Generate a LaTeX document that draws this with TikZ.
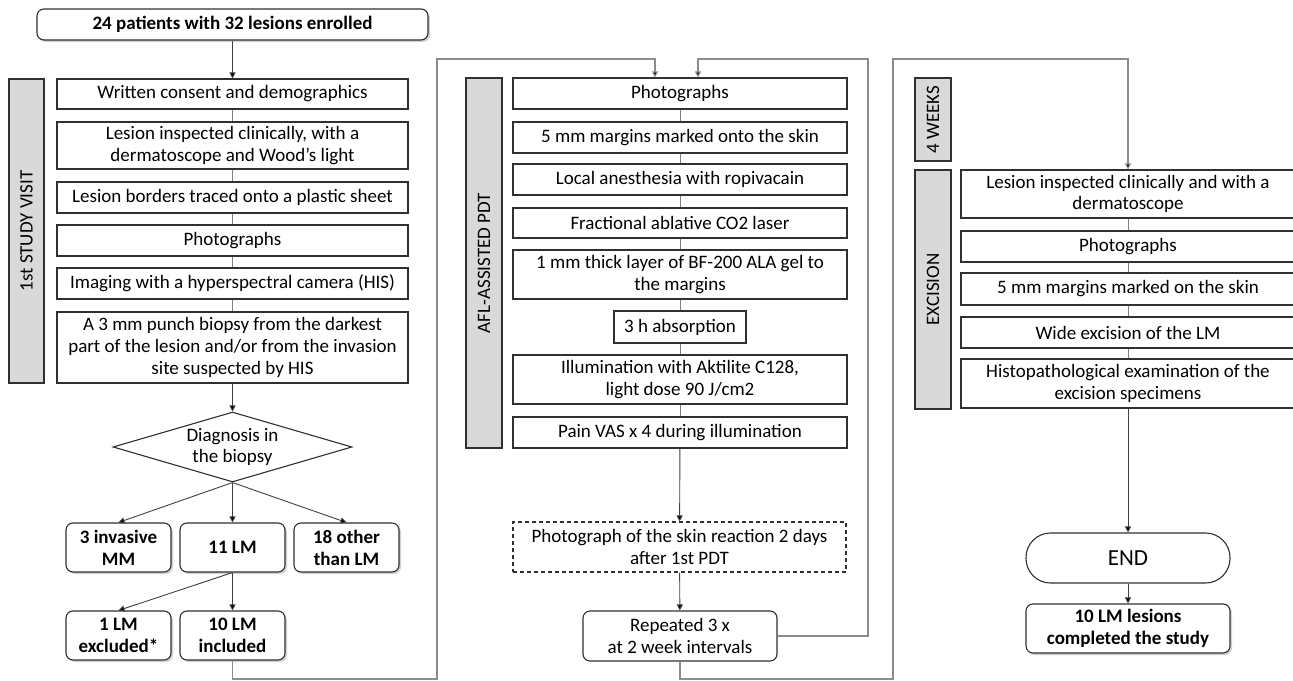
\documentclass[tikz,border=0pt]{standalone}
\usepackage{fontspec}
\setmainfont{Carlito}
\usetikzlibrary{arrows.meta,shapes.geometric,shadows,calc}
\definecolor{boxc}{HTML}{303030}
\definecolor{lblc}{HTML}{D9D9D9}
\definecolor{lnkc}{HTML}{808080}
\definecolor{rtec}{HTML}{8C8C8C}
\definecolor{arrc}{HTML}{404040}
\begin{document}
\begin{tikzpicture}[x=1pt,y=-1pt,
  font=\fontsize{19}{21.7}\selectfont,
  box/.style 2 args={draw=boxc, line width=1.1pt, fill=white, align=center, inner sep=0pt,
    minimum width=#1, minimum height=#2},
  rbox/.style 2 args={box={#1}{#2}, rounded corners=7pt, font=\fontsize{19}{22}\selectfont\bfseries,
    drop shadow={shadow xshift=2pt, shadow yshift=-2pt, opacity=0.35}},
  pbox/.style 2 args={box={#1}{#2}, rounded corners=7pt},
  dbox/.style 2 args={box={#1}{#2}, dash pattern=on 4pt off 3pt},
  lbl/.style 2 args={draw=boxc, line width=1.1pt, fill=lblc, inner sep=0pt, rotate=90,
    minimum width=#1, minimum height=#2},
  lnk/.style={draw=lnkc, line width=0.9pt},
  arr/.style={draw=arrc, line width=0.9pt, -{Triangle[length=6pt,width=6pt,fill=black]}},
  rte/.style={draw=rtec, line width=1.1pt},
  rtea/.style={rte, -{Triangle[length=6pt,width=6pt,fill=black]}}
]
\useasboundingbox (0,0) rectangle (1293,680);
\fill[white] (0,0) rectangle (1293,680);

% ---------- left column ----------
\node[rbox={391}{31}] (top) at (232.5,24.5) {24 patients with 32 lesions enrolled};
\node[lbl={304}{35}] (s1) at (26.5,231) {1st STUDY VISIT};
\node[box={351}{30}] (wc) at (232.5,94) {Written consent and demographics};
\node[box={351}{47}] (li) at (232.5,145.5) {Lesion inspected clinically, with a\\dermatoscope and Wood’s light};
\node[box={351}{31}] (lb) at (232.5,197.5) {Lesion borders traced onto a plastic sheet};
\node[box={351}{31}] (ph1) at (232.5,240.5) {Photographs};
\node[box={351}{31}] (im) at (232.5,283.5) {Imaging with a hyperspectral camera (HIS)};
\node[box={351}{71}] (pb) at (232.5,347.5) {A 3 mm punch biopsy from the darkest\\part of the lesion and/or from the invasion\\site suspected by HIS};
\node[draw=boxc, line width=1.1pt, fill=white, diamond, inner sep=0pt,
  minimum width=239, minimum height=70] (dg) at (232.5,447) {};
\node[align=center, inner sep=0pt] (dgt) at (dg.center) {Diagnosis in\\the biopsy};
\node[rbox={105}{49}] (mm) at (118.5,547.5) {3 invasive\\MM};
\node[rbox={105}{49}] (l11) at (232.5,547.5) {11 LM};
\node[rbox={105}{49}] (oth) at (346.5,547.5) {18 other\\than LM};
\node[rbox={105}{49}] (exc) at (118.5,635.5) {1 LM\\excluded*};
\node[rbox={105}{49}] (inc) at (232.5,635.5) {10 LM\\included};

% ---------- middle column ----------
\node[lbl={370}{36}] (s2) at (484,263) {AFL-ASSISTED PDT};
\node[box={334}{31}] (ph2) at (680,93.5) {Photographs};
\node[box={334}{31}] (mg) at (680,137.5) {5 mm margins marked onto the skin};
\node[box={334}{31}] (la) at (680,179.5) {Local anesthesia with ropivacain};
\node[box={334}{30}] (fr) at (680,223) {Fractional ablative CO2 laser};
\node[box={334}{49}] (gel) at (680,274.5) {1 mm thick layer of BF-200 ALA gel to\\the margins};
\node[box={132}{32}] (ab) at (680,327) {3 h absorption};
\node[box={334}{49}] (il) at (680,379.5) {Illumination with Aktilite C128,\\light dose 90 J/cm2};
\node[box={334}{31}] (pa) at (680,432.5) {Pain VAS x 4 during illumination};
\node[dbox={333}{50}] (sk) at (679.5,547) {Photograph of the skin reaction 2 days\\after 1st PDT};
\node[pbox={194}{50}] (rp) at (680,636) {Repeated 3 x\\at 2 week intervals};

% ---------- right column ----------
\node[lbl={83}{36}] (s3) at (933,119.5) {4 WEEKS};
\node[lbl={239}{36}] (s4) at (933,289.5) {EXCISION};
\node[box={334}{48}] (lr) at (1128,194) {Lesion inspected clinically and with a\\dermatoscope};
\node[box={334}{31}] (ph3) at (1128,246.5) {Photographs};
\node[box={334}{32}] (mr) at (1128,289) {5 mm margins marked on the skin};
\node[box={334}{31}] (we) at (1128,332.5) {Wide excision of the LM};
\node[box={334}{49}] (hi) at (1128,383.5) {Histopathological examination of the\\excision specimens};
\node[box={204}{50}, rounded corners=24.5pt, font=\fontsize{23}{26}\selectfont] (en) at (1128,558) {END};
\node[rbox={204}{49}] (fin) at (1128,628.5) {10 LM lesions\\completed the study};

% ---------- route corners ----------
\coordinate (b1) at (437,679);
\coordinate (t1) at (437,59);
\coordinate (t2) at (868,59);
\coordinate (b2) at (893,679);
\coordinate (t3) at (893,59);

% ---------- connectors ----------
\draw[arr] (top) -- (wc);
\draw[lnk] (wc) -- (li);
\draw[lnk] (li) -- (lb);
\draw[lnk] (lb) -- (ph1);
\draw[lnk] (ph1) -- (im);
\draw[lnk] (im) -- (pb);
\draw[arr] (pb) -- (dg);
\draw[arr] (dg.south) -- (mm.north);
\draw[arr] (dg.south) -- (l11.north);
\draw[arr] (dg.south) -- (oth.north);
\draw[arr] (l11.south) -- (exc.north);
\draw[arr] (l11.south) -- (inc.north);

\draw[rtea] (inc.south) |- (b1) -- (t1) -| ([xshift=-25pt]ph2.north);
\draw[rtea] (rp.east) -| (t2) -| ([xshift=18pt]ph2.north);

\draw[lnk] (ph2) -- (mg);
\draw[lnk] (mg) -- (la);
\draw[lnk] (la) -- (fr);
\draw[lnk] (fr) -- (gel);
\draw[lnk] (gel) -- (ab);
\draw[lnk] (ab) -- (il);
\draw[lnk] (il) -- (pa);
\draw[arr] (pa) -- (sk);
\draw[arr] (sk) -- (rp);

\draw[rtea] (rp.south) |- (b2) -- (t3) -| (lr.north);

\draw[lnk] (lr) -- (ph3);
\draw[lnk] (ph3) -- (mr);
\draw[lnk] (mr) -- (we);
\draw[lnk] (we) -- (hi);
\draw[arr] (hi) -- (en);
\draw[arr] (en) -- (fin);
\end{tikzpicture}
\end{document}
